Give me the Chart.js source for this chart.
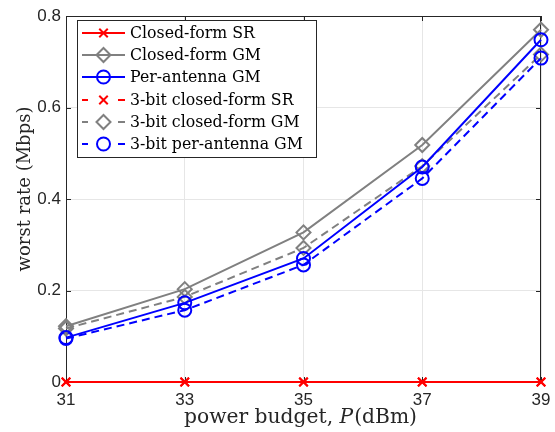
<!DOCTYPE html>
<html>
<head>
<meta charset="utf-8">
<script src="https://cdn.jsdelivr.net/npm/chart.js@4"></script>
<style>
  html, body { margin: 0; padding: 0; background: #fff; }
  #wrap { width: 555px; height: 432px; }
</style>
</head>
<body>
<div id="wrap"><canvas id="myChart"></canvas></div>
<script>
var power = [31, 33, 35, 37, 39];
var yTicks = [0, 0.2, 0.4, 0.6, 0.8];
var closedSR = [0, 0, 0, 0, 0];
var closedGM = [0.122, 0.203, 0.327, 0.518, 0.770];
var perAntGM = [0.097, 0.173, 0.270, 0.470, 0.748];
var bitSR = [0, 0, 0, 0, 0];
var bitClosedGM = [0.117, 0.186, 0.293, 0.472, 0.716];
var bitPerAntGM = [0.095, 0.157, 0.256, 0.445, 0.708];

var names = ['Closed-form SR', 'Closed-form GM', 'Per-antenna GM',
             '3-bit closed-form SR', '3-bit closed-form GM', '3-bit per-antenna GM'];

var serif = '"DejaVu Serif"';

function pts(vals) {
    return vals.map(function (v, i) { return { x: power[i], y: v }; });
}

function series(label, vals, color, style, dashed) {
    var r = style === 'circle' ? 6.5 : (style === 'rectRot' ? 7 : 6);
    return {
        label: label,
        data: pts(vals),
        borderColor: color,
        borderWidth: 2,
        borderDash: dashed ? [8, 5] : [],
        pointStyle: style,
        pointRadius: r,
        pointBorderColor: color,
        pointBorderWidth: 2,
        pointBackgroundColor: 'rgba(0,0,0,0)',
        fill: false,
        tension: 0,
        clip: false
    };
}

var datasets = [
    series(names[0], closedSR, '#ff0000', 'crossRot', false),
    series(names[1], closedGM, '#808080', 'rectRot', false),
    series(names[2], perAntGM, '#0000ff', 'circle', false),
    series(names[3], bitSR, '#ff0000', 'crossRot', true),
    series(names[4], bitClosedGM, '#808080', 'rectRot', true),
    series(names[5], bitPerAntGM, '#0000ff', 'circle', true)
];
var drawOrder = [3, 4, 5, 0, 1, 2];
drawOrder.forEach(function (d, k) { datasets[d].order = 6 - k; });

// pick a font size so the text spans the given width
function fitSize(c, text, width, style) {
    c.font = (style || '') + ' 20px ' + serif;
    return 20 * width / c.measureText(text).width;
}

var framePlugin = {
    id: 'frame',
    beforeDatasetsDraw: function (chart) {
        var c = chart.ctx, a = chart.chartArea;
        var xs = chart.scales.x, ys = chart.scales.y;
        c.save();
        c.strokeStyle = '#262626';
        c.lineWidth = 1;
        c.strokeRect(a.left + 0.5, a.top + 0.5, a.right - a.left - 1, a.bottom - a.top - 1);
        c.beginPath();
        power.forEach(function (p) {
            var x = Math.round(xs.getPixelForValue(p)) + 0.5;
            c.moveTo(x, a.bottom); c.lineTo(x, a.bottom - 5);
            c.moveTo(x, a.top); c.lineTo(x, a.top + 5);
        });
        yTicks.forEach(function (t) {
            var y = Math.round(ys.getPixelForValue(t)) + 0.5;
            c.moveTo(a.left, y); c.lineTo(a.left + 5, y);
            c.moveTo(a.right, y); c.lineTo(a.right - 5, y);
        });
        c.stroke();
        c.restore();
    },
    afterDraw: function (chart) {
        var c = chart.ctx, a = chart.chartArea;
        c.save();
        c.fillStyle = '#262626';
        c.textBaseline = 'middle';

        // x title with italic P
        var t1 = 'power budget, ', t2 = 'P', t3 = '(dBm)';
        c.font = '20px ' + serif;
        var base = c.measureText(t1).width + c.measureText(t3).width;
        c.font = 'italic 20px ' + serif;
        base += c.measureText(t2).width;
        var fs = 20 * 232 / base;
        c.font = fs + 'px ' + serif;
        var w1 = c.measureText(t1).width;
        c.font = 'italic ' + fs + 'px ' + serif;
        var w2 = c.measureText(t2).width;
        var x0 = 300 - 232 / 2, ty = 418;
        c.textAlign = 'left';
        c.font = fs + 'px ' + serif;
        c.fillText(t1, x0, ty);
        c.font = 'italic ' + fs + 'px ' + serif;
        c.fillText(t2, x0 + w1, ty);
        c.font = fs + 'px ' + serif;
        c.fillText(t3, x0 + w1 + w2 + 1, ty);

        // y title
        var ytxt = 'worst rate (Mbps)';
        var yfs = fitSize(c, ytxt, 165);
        c.save();
        c.translate(25, 189);
        c.rotate(-Math.PI / 2);
        c.textAlign = 'center';
        c.font = yfs + 'px ' + serif;
        c.fillText(ytxt, 0, 0);
        c.restore();

        // legend
        var lx = 77, ly = 20, lw = 239, lh = 137;
        c.fillStyle = '#ffffff';
        c.fillRect(lx, ly, lw, lh);
        c.strokeStyle = '#262626';
        c.lineWidth = 1;
        c.strokeRect(lx + 0.5, ly + 0.5, lw, lh);
        var lfs = fitSize(c, names[5], 173);
        var rows = [33, 55, 77, 100, 122, 144];
        datasets.forEach(function (ds, i) {
            var y = rows[i];
            c.strokeStyle = ds.borderColor;
            c.lineWidth = 2;
            c.setLineDash([]);
            c.beginPath();
            if (ds.borderDash.length) {
                c.moveTo(82, y); c.lineTo(88, y);
                c.moveTo(118, y); c.lineTo(125, y);
            } else {
                c.moveTo(82, y); c.lineTo(125, y);
            }
            c.stroke();
            c.fillStyle = 'rgba(0,0,0,0)';
            Chart.helpers.drawPoint(c, {
                pointStyle: ds.pointStyle, radius: ds.pointRadius, borderWidth: 2
            }, 103.5, y);
            c.fillStyle = '#000';
            c.font = lfs + 'px ' + serif;
            c.textAlign = 'left';
            c.textBaseline = 'middle';
            c.fillText(names[i], 130, y + 1);
        });
        c.restore();
    }
};

var ctx = document.getElementById('myChart').getContext('2d');
var chart = new Chart(ctx, {
    type: 'line',
    data: { datasets: datasets },
    options: {
        responsive: true,
        maintainAspectRatio: false,
        animation: false,
        layout: { padding: { top: 16, right: 14, left: 0, bottom: 0 } },
        scales: {
            x: {
                type: 'linear',
                min: 31, max: 39,
                afterBuildTicks: function (s) { s.ticks = power.map(function (v) { return { value: v }; }); },
                afterFit: function (s) { s.height = 50; s.paddingLeft = 0; s.paddingRight = 0; },
                grid: { color: '#e6e6e6', drawTicks: false },
                border: { display: false },
                ticks: {
                    padding: 8,
                    color: '#262626',
                    font: { family: '"Liberation Sans"', size: 17 }
                }
            },
            y: {
                min: 0, max: 0.8,
                afterBuildTicks: function (s) { s.ticks = yTicks.map(function (v) { return { value: v }; }); },
                afterFit: function (s) { s.width = 66; s.paddingTop = 0; s.paddingBottom = 0; },
                grid: { color: '#e6e6e6', drawTicks: false },
                border: { display: false },
                ticks: {
                    padding: 5,
                    color: '#262626',
                    font: { family: '"Liberation Sans"', size: 17 },
                    callback: function (v) { return v === 0 ? '0' : String(+v.toFixed(1)); }
                }
            }
        },
        plugins: {
            legend: { display: false },
            tooltip: { enabled: false }
        }
    },
    plugins: [framePlugin]
});
</script>
</body>
</html>
